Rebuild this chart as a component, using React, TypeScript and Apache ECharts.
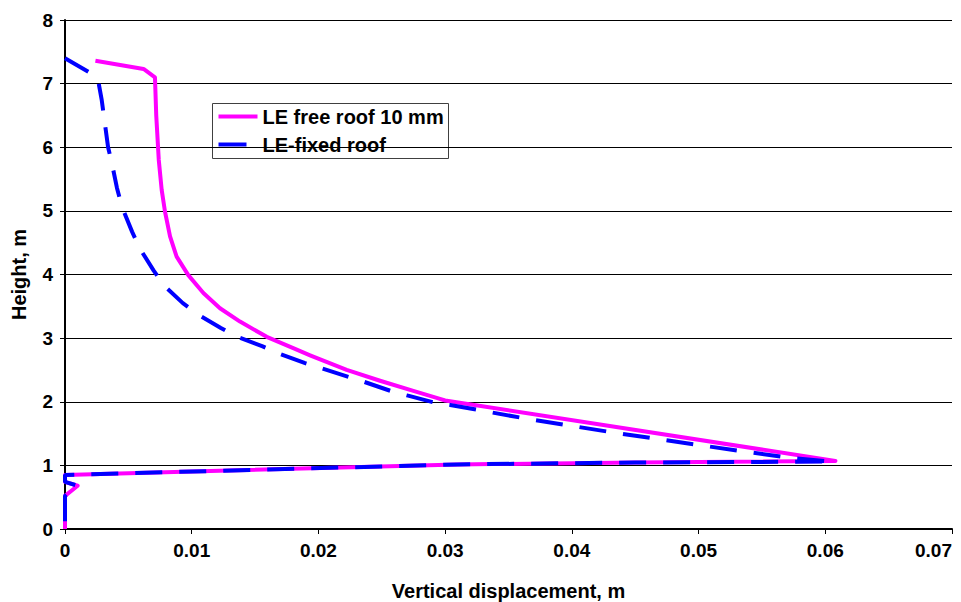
import React, { useEffect, useRef } from "react";
import * as echarts from "echarts";

// LE free roof 10 mm: [vertical displacement (m), height (m)]
const freeRoofX = [0.0024, 0.0062, 0.0071, 0.0072, 0.0074, 0.00763, 0.00789, 0.00829, 0.00881, 0.00973, 0.01092, 0.01223, 0.01381, 0.01592, 0.01815, 0.01934, 0.02223, 0.02486, 0.02749, 0.02933, 0.03, 0.0608, 0.045, 0.031, 0, 0, 0.001, 0, 0];
const freeRoofY = [7.36, 7.23, 7.1, 6.5, 5.8, 5.33, 4.99, 4.6, 4.28, 3.99, 3.71, 3.47, 3.26, 3.02, 2.83, 2.73, 2.5, 2.33, 2.17, 2.06, 2.02, 1.07, 1.045, 1.015, 0.85, 0.74, 0.68, 0.52, 0];

// LE-fixed roof
const fixedRoofX = [0, 0.0024, 0.0026, 0.0029, 0.0034, 0.0037, 0.0041, 0.0045, 0.0053, 0.0059, 0.007, 0.0078, 0.0093, 0.0106, 0.0123, 0.0136, 0.0156, 0.017, 0.0189, 0.0202, 0.0224, 0.0235, 0.0257, 0.027, 0.0291, 0.0304, 0.0361, 0.043, 0.05, 0.0571, 0.0605, 0.045, 0.031, 0, 0, 0.001, 0, 0];
const fixedRoofY = [7.4, 7.12, 7.07, 6.74, 6.0, 5.75, 5.36, 5.06, 4.67, 4.41, 4.06, 3.83, 3.55, 3.36, 3.16, 3.02, 2.87, 2.75, 2.61, 2.53, 2.39, 2.32, 2.17, 2.1, 1.99, 1.95, 1.745, 1.525, 1.32, 1.12, 1.06, 1.045, 1.015, 0.85, 0.74, 0.68, 0.52, 0];

const seriesNames = ["LE free roof 10 mm", "LE-fixed roof"];
const xTitle = "Vertical displacement, m";
const yTitle = "Height, m";

const FONT = "'Liberation Sans', Arial, sans-serif";

export default function App() {
  const ref = useRef<HTMLDivElement>(null);
  useEffect(() => {
    if (!ref.current) return;
    const chart = echarts.init(ref.current, null, { renderer: "svg" });
    const pair = (xs: number[], ys: number[]) => xs.map((x, i) => [x, ys[i]]);
    chart.setOption({
      animation: false,
      backgroundColor: "#ffffff",
      grid: { left: 65, right: 9, top: 20, bottom: 73, containLabel: false, outerBoundsMode: "none" },
      xAxis: {
        type: "value",
        min: 0,
        max: 0.07,
        interval: 0.01,
        name: xTitle,
        nameLocation: "middle",
        nameGap: 52,
        nameTextStyle: { fontFamily: FONT, fontWeight: "bold", fontSize: 20, color: "#000" },
        axisLine: { show: true, onZero: false, lineStyle: { color: "#000", width: 2 } },
        axisTick: { show: true, length: 5, lineStyle: { color: "#000", width: 1 } },
        axisLabel: {
          margin: 12,
          fontFamily: FONT,
          fontWeight: "bold",
          fontSize: 19,
          color: "#000",
          alignMaxLabel: "right",
          formatter: (v: number) => (v === 0 ? "0" : v.toFixed(2)),
        },
        splitLine: { show: false },
      },
      yAxis: {
        type: "value",
        min: 0,
        max: 8,
        interval: 1,
        name: yTitle,
        nameLocation: "middle",
        nameGap: 36,
        nameTextStyle: { fontFamily: FONT, fontWeight: "bold", fontSize: 20, color: "#000" },
        axisLine: { show: true, onZero: false, lineStyle: { color: "#000", width: 2 } },
        axisTick: { show: true, length: 5, lineStyle: { color: "#000", width: 1 } },
        axisLabel: { margin: 12, fontFamily: FONT, fontWeight: "bold", fontSize: 19, color: "#000" },
        splitLine: { show: true, lineStyle: { color: "#000", width: 1 } },
      },
      series: [
        {
          name: seriesNames[0],
          type: "line",
          data: pair(freeRoofX, freeRoofY),
          symbol: "none",
          smooth: false,
          lineStyle: { color: "#FF00FF", width: 4, join: "round" },
          z: 2,
        },
        {
          name: seriesNames[1],
          type: "line",
          data: pair(fixedRoofX, fixedRoofY),
          symbol: "none",
          smooth: false,
          lineStyle: { color: "#0000FF", width: 4, type: [27, 17], cap: "butt" },
          z: 3,
        },
      ],
      graphic: [
        {
          type: "group",
          left: 212,
          top: 103,
          children: [
            { type: "rect", shape: { x: 0, y: 0, width: 236, height: 55 }, style: { fill: "#fff", stroke: "#404040", lineWidth: 1 } },
            { type: "line", shape: { x1: 6, y1: 13, x2: 45, y2: 13 }, style: { stroke: "#FF00FF", lineWidth: 4 } },
            { type: "line", shape: { x1: 6, y1: 41, x2: 34, y2: 41 }, style: { stroke: "#0000FF", lineWidth: 4 } },
            { type: "text", x: 50, y: 13, style: { text: seriesNames[0], fill: "#000", font: `bold 20px ${FONT}`, verticalAlign: "middle", align: "left" } },
            { type: "text", x: 50, y: 41, style: { text: seriesNames[1], fill: "#000", font: `bold 20px ${FONT}`, verticalAlign: "middle", align: "left" } },
          ],
        },
      ],
    });
    return () => chart.dispose();
  }, []);
  return <div ref={ref} style={{ width: 961, height: 602, position: "absolute", left: 0, top: 0 }} />;
}
